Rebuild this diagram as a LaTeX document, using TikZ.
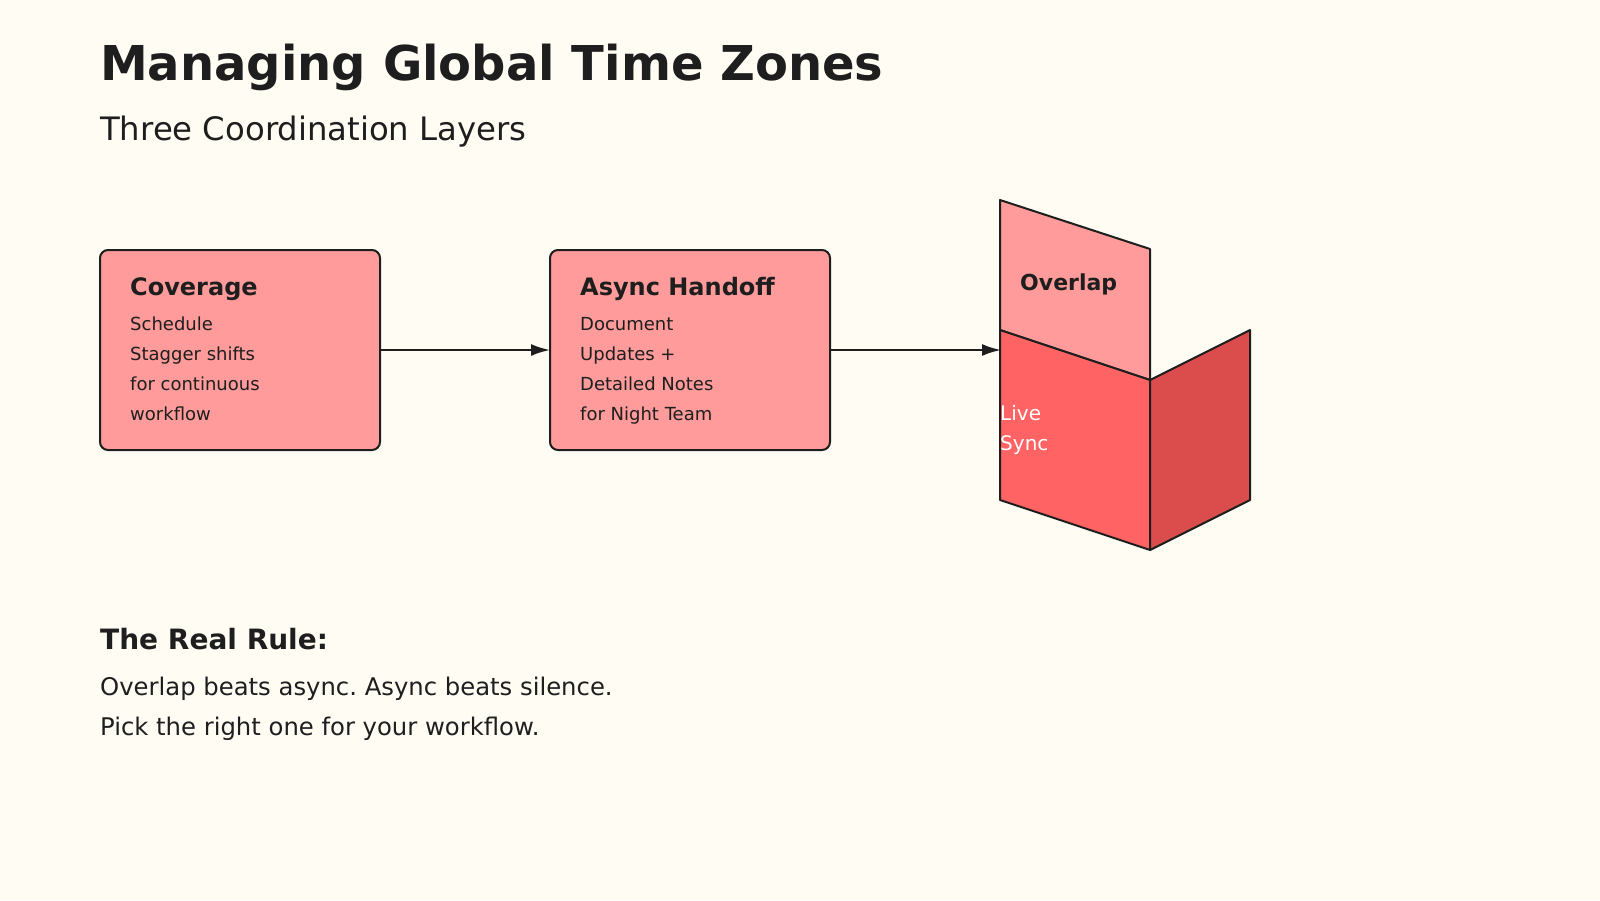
\documentclass[tikz,border=0pt]{standalone}
\usepackage{fontspec}
\setmainfont{DejaVu Sans}
\usetikzlibrary{arrows.meta}
\frenchspacing
\definecolor{bg}{HTML}{FFFCF4}
\definecolor{ink}{HTML}{1E1E1E}
\definecolor{boxfill}{HTML}{FF9B9B}
\definecolor{frontfill}{HTML}{FF6363}
\definecolor{sidefill}{HTML}{DB4D4D}
\tikzset{
  box/.style={draw=ink, fill=boxfill, line width=2pt, rounded corners=8pt, minimum width=280pt, minimum height=200pt, inner sep=0pt},
  face/.style={draw=ink, line width=2pt, line join=round},
  conn/.style={draw=ink, line width=2pt, -{Latex[length=19pt,width=12pt]}, shorten >=-1pt},
  ttl/.style={anchor=base west, inner sep=0pt, text=ink, font=\fontsize{48}{56}\selectfont\bfseries},
  sub/.style={anchor=base west, inner sep=0pt, text=ink, font=\fontsize{32.3}{38}\selectfont},
  head/.style={anchor=base west, inner sep=0pt, text=ink, font=\fontsize{24}{28}\selectfont\bfseries},
  body/.style={anchor=base west, inner sep=0pt, text=ink, font=\fontsize{18}{22}\selectfont},
  rule/.style={anchor=base west, inner sep=0pt, text=ink, font=\fontsize{28}{32}\selectfont\bfseries},
  ruletext/.style={anchor=base west, inner sep=0pt, text=ink, font=\fontsize{24.3}{28}\selectfont},
  ovtext/.style={anchor=base west, inner sep=0pt, text=ink, font=\fontsize{22}{26}\selectfont\bfseries},
  livetext/.style={anchor=base west, inner sep=0pt, text=white, font=\fontsize{20}{24}\selectfont},
}
\begin{document}
\begin{tikzpicture}[x=1pt,y=-1pt]
\fill[bg] (0,0) rectangle (1600,900);
\useasboundingbox (0,0) rectangle (1600,900);

\node[ttl] (title) at (100,80) {Managing Global Time Zones};
\node[sub] (subtitle) at (100,140) {Three Coordination Layers};

% boxes
\node[box] (cov) at (240,350) {};
\node[head] (covh) at (130,295) {Coverage};
\node[body] (cov1) at (130,330) {Schedule};
\node[body] (cov2) at (130,360) {Stagger shifts};
\node[body] (cov3) at (130,390) {for continuous};
\node[body] (cov4) at (130,420) {workflow};

\node[box] (asy) at (690,350) {};
\node[head] (asyh) at (580,295) {Async Handoff};
\node[body] (asy1) at (580,330) {Document};
\node[body] (asy2) at (580,360) {Updates +};
\node[body] (asy3) at (580,390) {Detailed Notes};
\node[body] (asy4) at (580,420) {for Night Team};

% 3D shape
\coordinate (ta) at (1000,200);
\coordinate (tb) at (1150,249);
\coordinate (tc) at (1150,380);
\coordinate (td) at (1000,330);
\coordinate (fb) at (1150,550);
\coordinate (fa) at (1000,500);
\coordinate (sa) at (1250,330);
\coordinate (sb) at (1250,500);
\coordinate (ovin) at (1000,350);

\path[face, fill=boxfill] (ta) -- (tb) -- (tc) -- (td) -- cycle;
\path[face, fill=frontfill] (td) -- (tc) -- (fb) -- (fa) -- cycle;
\path[face, fill=sidefill] (tc) -- (sa) -- (sb) -- (fb) -- cycle;

\node[ovtext] (ovh) at (1020,290) {Overlap};
\node[livetext] (live1) at (1000,420) {Live};
\node[livetext] (live2) at (1000,450) {Sync};

% connectors
\draw[conn] (cov.east) -- (asy.west);
\draw[conn] (asy.east) -- (ovin);

% rule
\node[rule] (rh) at (100,649) {The Real Rule:};
\node[ruletext] (r1) at (100,695) {Overlap beats async. Async beats silence.};
\node[ruletext] (r2) at (100,735) {Pick the right one for your workflow.};
\end{tikzpicture}
\end{document}
